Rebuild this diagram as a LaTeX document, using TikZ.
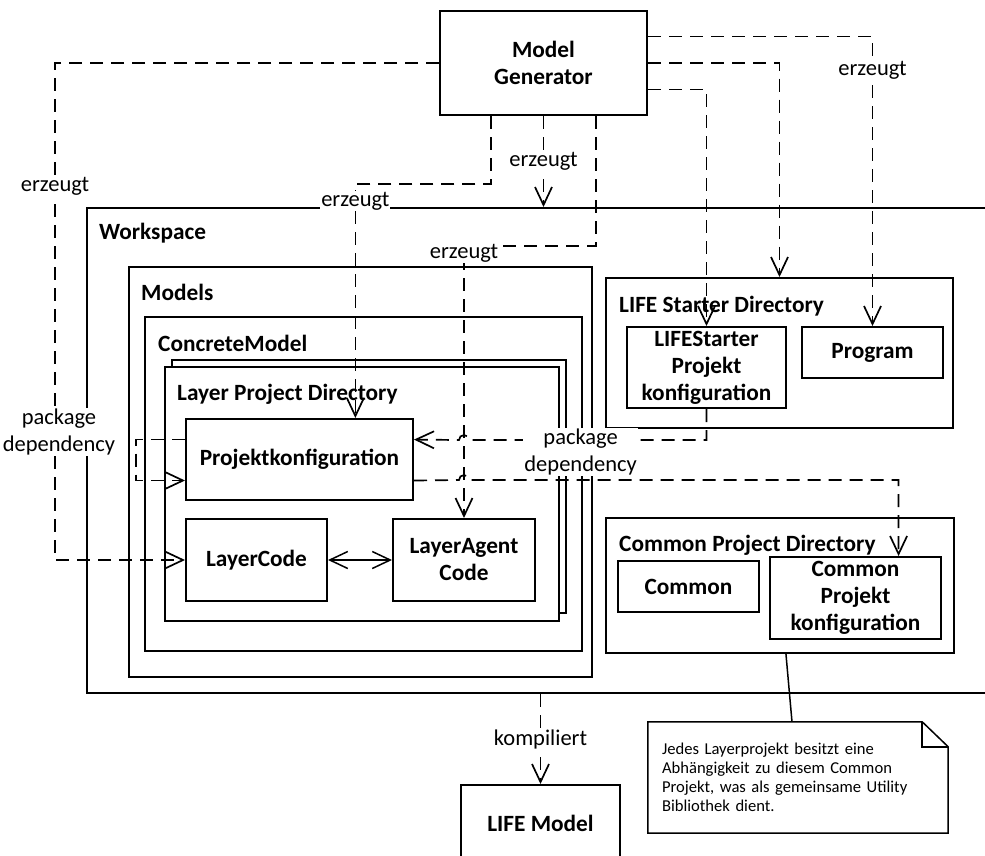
\documentclass[tikz,border=0pt]{standalone}
\usepackage{fontspec}
\setmainfont{Carlito}
\usetikzlibrary{arrows.meta,calc}

\begin{document}
\begin{tikzpicture}[x=1pt,y=-1pt,
  box/.style={draw,line width=2pt,fill=white,inner sep=0pt,align=center,
    font=\bfseries\fontsize{23.3}{27}\selectfont},
  title/.style={anchor=west,inner sep=0pt,font=\bfseries\fontsize{23.3}{27}\selectfont},
  lbl/.style={fill=white,inner sep=1pt,align=center,font=\fontsize{22.5}{27}\selectfont},
  dep/.style={line width=1.7pt,dash pattern=on 13pt off 8pt},
  tip/.tip={Straight Barb[length=18pt,width=17pt]},
  arr/.style={-tip},
  notebox/.style={inner sep=0pt,align=left,text width=272pt,
    font=\fontsize{16.6}{19}\selectfont}]

\clip (0,0) rectangle (985,855);

% generator
\node[box,minimum width=207pt,minimum height=104pt] (mg) at (543.5,63) {Model\\Generator};

% workspace and nested containers
\node[box,minimum width=913pt,minimum height=485pt] (ws) at (543.5,450.5) {};
\node[title] (wst) at (99,233) {Workspace};
\node[box,minimum width=463pt,minimum height=410pt] (models) at (360.5,472) {};
\node[title] (modelst) at (141,292) {Models};
\node[box,minimum width=437pt,minimum height=334pt] (cm) at (363.5,484) {};
\node[title] (cmt) at (158,343) {ConcreteModel};
\node[box,line width=1.4pt,minimum width=394pt,minimum height=253pt] (lpdb) at (369,486.5) {};
\node[box,minimum width=394pt,minimum height=254pt] (lpd) at (362,494) {};
\node[title] (lpdt) at (177,394) {Layer Project Directory};
\node[box,minimum width=227pt,minimum height=81pt] (pk) at (299.5,459.5) {Projektkonfiguration};
\node[box,minimum width=141pt,minimum height=82pt] (lc) at (256.5,560) {LayerCode};
\node[box,minimum width=142pt,minimum height=82pt] (lac) at (464,560) {LayerAgent\\Code};

% starter directory
\node[box,minimum width=347pt,minimum height=150pt] (lsd) at (779.5,353) {};
\node[title] (lsdt) at (619,306) {LIFE Starter Directory};
\node[box,minimum width=159pt,minimum height=81pt] (lsp) at (706.5,367.5) {LIFEStarter\\Projekt\\konfiguration};
\node[box,minimum width=141pt,minimum height=51pt] (prog) at (872.5,352.5) {Program};

% common directory
\node[box,minimum width=348pt,minimum height=135pt] (cpd) at (780,585.5) {};
\node[title] (cpdt) at (619,545) {Common Project Directory};
\node[box,minimum width=141pt,minimum height=51pt] (common) at (688.5,586.5) {Common};
\node[box,minimum width=171pt,minimum height=82pt] (cpk) at (855.5,598) {Common\\Projekt\\konfiguration};

% compiled model
\node[box,minimum width=159pt,minimum height=76pt] (life) at (540.5,823) {LIFE Model};

% annotation
\node[notebox,minimum width=300pt,minimum height=111pt] (note) at (798,777.5)
  {Jedes Layerprojekt besitzt eine\\Abhängigkeit zu diesem Common\\Projekt, was als gemeinsame Utility\\Bibliothek dient.};
\draw[line width=1.5pt,line join=miter]
  (note.north west) -- ($(note.north east)+(-26,0)$) -- ($(note.north east)+(0,25)$)
  -- (note.south east) -- (note.south west) -- cycle;
\draw[line width=1.5pt] ($(note.north east)+(-26,0)$) |- ($(note.north east)+(0,25)$);
\draw[line width=1.5pt] ($(cpd.south west)!0.517!(cpd.south east)$) -- ($(note.north west)!0.48!(note.north east)$);

% generated artefacts
\draw[dep,arr] (mg.west) -- (55,63) |-
  node[lbl,pos=0.124]{erzeugt}
  node[lbl,pos=0.371,xshift=4pt]{package\\dependency} (lc.west);
\draw[dep,arr] ($(mg.south west)!0.25!(mg.south east)$) -- ++(0,68)
  -| node[lbl,pos=0.536]{erzeugt} ($(pk.north west)!0.744!(pk.north east)$);
\draw[dep,arr] (mg.south) -- node[lbl,pos=0.5]{erzeugt} (mg.south |- ws.north);
\draw[dep,arr] ($(mg.south west)!0.75!(mg.south east)$) -- ++(0,130)
  -| node[lbl,pos=0.5,yshift=-7pt]{erzeugt} (lac.north);
\draw[dep,arr] ($(mg.north east)!0.25!(mg.south east)$) -| node[lbl,pos=0.559]{erzeugt} (prog.north);
\draw[dep,arr] ($(mg.north east)!0.5!(mg.south east)$) -| (lsd.north);
\draw[dep,arr] ($(mg.north east)!0.75!(mg.south east)$) -| (lsp.north);

% package dependencies
\draw[dep,arr] (lsp.south) -- (706.5,440) -- node[lbl,pos=0.53,yshift=-12pt]{package\\dependency} (469,440)
  arc[start angle=0,end angle=180,radius=5pt] -- ($(pk.north east)!0.26!(pk.south east)$);
\draw[dep,arr] ($(pk.north east)!0.753!(pk.south east)$) -- (459,480)
  arc[start angle=180,end angle=0,radius=5pt] -| ($(cpk.north west)!0.749!(cpk.north east)$);
\draw[dep,arr] ($(pk.north west)!0.26!(pk.south west)$) -- ++(-49,0) |- ($(pk.north west)!0.753!(pk.south west)$);

% code references
\draw[line width=1.5pt,tip-tip] (lc.east) -- (lac.west);

% build
\draw[dep,arr] (life.north |- ws.south) -- node[lbl,pos=0.5]{kompiliert} (life.north);

\end{tikzpicture}
\end{document}
